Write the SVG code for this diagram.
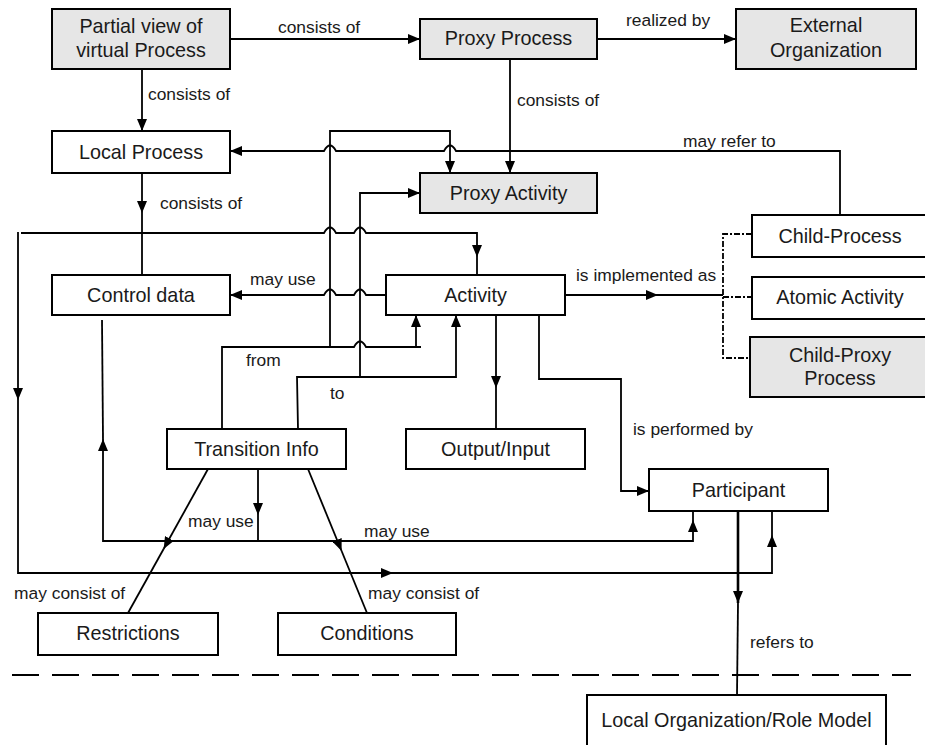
<svg xmlns="http://www.w3.org/2000/svg" width="925" height="745" viewBox="0 0 925 745">
  <style>
    .box { fill: #ffffff; stroke: #000; stroke-width: 2; }
    .grey { fill: #e6e6e6; }
    .t { font-family: "Liberation Sans", Arial, sans-serif; font-size: 19.8px; fill: #1a1a1a; text-anchor: middle; }
    .lbl { font-family: "Liberation Sans", Arial, sans-serif; font-size: 17.4px; fill: #1a1a1a; }
    .c { fill: none; stroke: #000; stroke-width: 1.8; }
    .dd { fill: none; stroke: #000; stroke-width: 1.8; stroke-dasharray: 6 2 2 2; }
    .sep { fill: none; stroke: #000; stroke-width: 2; stroke-dasharray: 27 13; }
  </style>
  <defs>
    <marker id="arr" viewBox="0 0 12 10" refX="12" refY="5" markerWidth="12" markerHeight="10" markerUnits="userSpaceOnUse" orient="auto">
      <path d="M0,0 L12,5 L0,10 z" fill="#000"/>
    </marker>
  </defs>

  <rect width="925" height="745" fill="#ffffff"/>

  <!-- boundary between process level and organization level -->
  <path class="sep" d="M12,675 H911"/>

  <g id="connectors">
    <!-- Partial view -> Proxy Process -->
    <path class="c" d="M230,39 H420" marker-end="url(#arr)"/>
    <!-- Proxy Process -> External Organization -->
    <path class="c" d="M597,39 H736" marker-end="url(#arr)"/>
    <!-- Partial view -> Local Process -->
    <path class="c" d="M142,69 V131" marker-end="url(#arr)"/>
    <!-- Proxy Process -> Proxy Activity -->
    <path class="c" d="M510,59 V173" marker-end="url(#arr)"/>
    <!-- Local Process -> Control data -->
    <path class="c" d="M142,173 V213" marker-end="url(#arr)"/>
    <path class="c" d="M142,213 V275"/>
    <!-- Child-Process -> Local Process (may refer to) -->
    <path class="c" d="M840,215 V151 H456 Q450,140 444,151 H336 Q330,140 324,151 H230" marker-end="url(#arr)"/>
    <!-- Transition Info "from" -->
    <path class="c" d="M222,429 V347 H354 Q360,336 366,347 H421"/>
    <path class="c" d="M416,347 V315" marker-end="url(#arr)"/>
    <path class="c" d="M330,347 V131 H450 V173" marker-end="url(#arr)"/>
    <!-- Transition Info "to" -->
    <path class="c" d="M298,429 L297,377 H456 V315" marker-end="url(#arr)"/>
    <path class="c" d="M360,377 V193 H420" marker-end="url(#arr)"/>
    <!-- loop from top line to Activity and Participant -->
    <path class="c" d="M21,233 H324 Q330,222 336,233 H354 Q360,222 366,233 H477 V257" marker-end="url(#arr)"/>
    <path class="c" d="M477,257 V275"/>
    <path class="c" d="M18,232 V400" marker-end="url(#arr)"/>
    <path class="c" d="M18,400 V573 H393" marker-end="url(#arr)"/>
    <path class="c" d="M393,573 H772 V535" marker-end="url(#arr)"/>
    <path class="c" d="M772,535 V511"/>
    <!-- Activity -> Control data (may use) -->
    <path class="c" d="M386,295 H366 Q360,284 354,295 H336 Q330,284 324,295 H230" marker-end="url(#arr)"/>
    <!-- Activity -> Output/Input -->
    <path class="c" d="M496,315 V388" marker-end="url(#arr)"/>
    <path class="c" d="M496,388 V429"/>
    <!-- Activity -> Participant (is performed by) -->
    <path class="c" d="M539,315 V379 H621 V491 H649" marker-end="url(#arr)"/>
    <!-- Activity -> implementations -->
    <path class="c" d="M565,295 H658" marker-end="url(#arr)"/>
    <path class="c" d="M658,295 H723"/>
    <path class="dd" d="M752,234 H723 V358 H750"/>
    <path class="dd" d="M723,297 H752"/>
    <!-- Transition Info may use -> Control data / Participant -->
    <path class="c" d="M258,469 V515" marker-end="url(#arr)"/>
    <path class="c" d="M258,515 V541"/>
    <path class="c" d="M258,541 H103 V439" marker-end="url(#arr)"/>
    <path class="c" d="M103,439 L102,320"/>
    <path class="c" d="M258,541 H693 V520" marker-end="url(#arr)"/>
    <path class="c" d="M693,520 V511"/>
    <!-- Transition Info -> Restrictions / Conditions -->
    <path class="c" d="M208,469 L163.6,549" marker-end="url(#arr)"/>
    <path class="c" d="M163.6,549 L128,613"/>
    <path class="c" d="M308,469 L341.6,551" marker-end="url(#arr)"/>
    <path class="c" d="M341.6,551 L367,613"/>
    <!-- Participant -> Local Organization/Role Model -->
    <path class="c" d="M738,511 V603" style="stroke-width:2.6" marker-end="url(#arr)"/>
    <path class="c" d="M738,603 L737,695"/>
  </g>

  <g id="labels">
    <text class="lbl" x="278" y="33">consists of</text>
    <text class="lbl" x="626" y="26">realized by</text>
    <text class="lbl" x="148" y="100">consists of</text>
    <text class="lbl" x="517" y="106">consists of</text>
    <text class="lbl" x="160" y="209">consists of</text>
    <text class="lbl" x="683" y="147">may refer to</text>
    <text class="lbl" x="250" y="285">may use</text>
    <text class="lbl" x="576" y="281">is implemented as</text>
    <text class="lbl" x="246" y="366">from</text>
    <text class="lbl" x="330" y="399">to</text>
    <text class="lbl" x="633" y="435">is performed by</text>
    <text class="lbl" x="188" y="527">may use</text>
    <text class="lbl" x="364" y="537">may use</text>
    <text class="lbl" x="14" y="599">may consist of</text>
    <text class="lbl" x="368" y="599">may consist of</text>
    <text class="lbl" x="750" y="648">refers to</text>
  </g>

  <g id="partial-view">
    <rect class="box grey" x="52" y="9" width="178" height="60"/>
    <text class="t" x="141" y="33">Partial view of</text>
    <text class="t" x="141" y="57">virtual Process</text>
  </g>
  <g id="proxy-process">
    <rect class="box grey" x="420" y="19" width="177" height="40"/>
    <text class="t" x="508.5" y="45">Proxy Process</text>
  </g>
  <g id="external-organization">
    <rect class="box grey" x="736" y="9" width="180" height="60"/>
    <text class="t" x="826" y="32">External</text>
    <text class="t" x="826" y="57">Organization</text>
  </g>
  <g id="local-process">
    <rect class="box" x="52" y="131" width="178" height="42"/>
    <text class="t" x="141" y="159">Local Process</text>
  </g>
  <g id="proxy-activity">
    <rect class="box grey" x="420" y="173" width="177" height="40"/>
    <text class="t" x="508.5" y="200">Proxy Activity</text>
  </g>
  <g id="control-data">
    <rect class="box" x="52" y="275" width="178" height="40"/>
    <text class="t" x="141" y="302">Control data</text>
  </g>
  <g id="activity">
    <rect class="box" x="386" y="275" width="179" height="40"/>
    <text class="t" x="475.5" y="302">Activity</text>
  </g>
  <g id="child-process">
    <rect class="box" x="752" y="215" width="180" height="42"/>
    <text class="t" x="840" y="243">Child-Process</text>
  </g>
  <g id="atomic-activity">
    <rect class="box" x="752" y="277" width="180" height="42"/>
    <text class="t" x="840" y="304">Atomic Activity</text>
  </g>
  <g id="child-proxy-process">
    <rect class="box grey" x="750" y="337" width="182" height="60"/>
    <text class="t" x="840" y="362">Child-Proxy</text>
    <text class="t" x="840" y="385">Process</text>
  </g>
  <g id="transition-info">
    <rect class="box" x="167" y="429" width="179" height="40"/>
    <text class="t" x="256.5" y="456">Transition Info</text>
  </g>
  <g id="output-input">
    <rect class="box" x="406" y="429" width="179" height="40"/>
    <text class="t" x="495.5" y="456">Output/Input</text>
  </g>
  <g id="participant">
    <rect class="box" x="649" y="469" width="179" height="42"/>
    <text class="t" x="738.5" y="497">Participant</text>
  </g>
  <g id="restrictions">
    <rect class="box" x="38" y="613" width="180" height="42"/>
    <text class="t" x="128" y="640">Restrictions</text>
  </g>
  <g id="conditions">
    <rect class="box" x="278" y="613" width="178" height="42"/>
    <text class="t" x="367" y="640">Conditions</text>
  </g>
  <g id="local-organization">
    <rect class="box" x="587" y="695" width="299" height="60"/>
    <text class="t" x="736.5" y="727">Local Organization/Role Model</text>
  </g>
</svg>
